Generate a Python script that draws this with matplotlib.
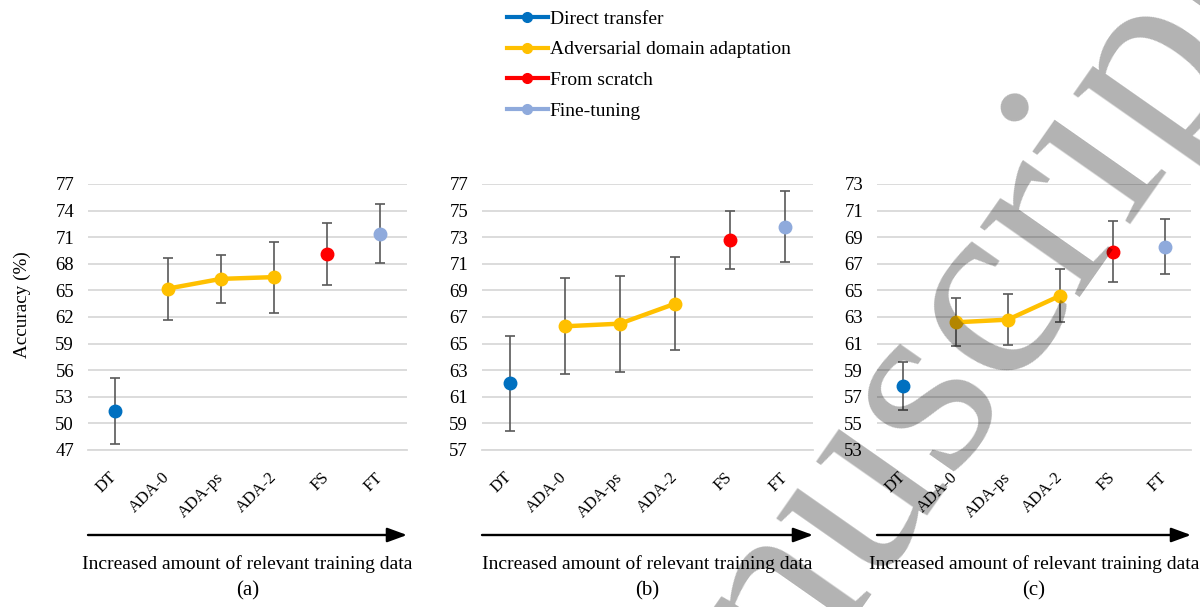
import matplotlib
matplotlib.use('Agg')
import matplotlib.pyplot as plt
import numpy as np
from matplotlib.lines import Line2D
from matplotlib.transforms import ScaledTranslation

plt.rcParams['font.family'] = ['Liberation Serif', 'DejaVu Serif']

# ---------------- data ----------------
categories = ['DT', 'ADA-0', 'ADA-ps', 'ADA-2', 'FS', 'FT']

acc_a = [51.4, 65.2, 66.3, 66.5, 69.1, 71.4]
err_a = [3.7, 3.5, 2.7, 4.0, 3.5, 3.3]

acc_b = [62.0, 66.3, 66.5, 68.0, 72.8, 73.8]
err_b = [3.6, 3.6, 3.6, 3.5, 2.2, 2.7]

acc_c = [57.8, 62.6, 62.8, 64.6, 67.9, 68.3]
err_c = [1.8, 1.8, 1.9, 2.0, 2.3, 2.1]

yticks_a = [47, 50, 53, 56, 59, 62, 65, 68, 71, 74, 77]
yticks_b = [57, 59, 61, 63, 65, 67, 69, 71, 73, 75, 77]
yticks_c = [53, 55, 57, 59, 61, 63, 65, 67, 69, 71, 73]

series_names = ['Direct transfer', 'Adversarial domain adaptation',
                'From scratch', 'Fine-tuning']
series_members = [[0], [1, 2, 3], [4], [5]]
series_colors = ['#0070C0', '#FFC000', '#FF0000', '#8FAADC']

panel_labels = ['(a)', '(b)', '(c)']
axis_title = 'Increased amount of relevant training data'

# ---------------- layout ----------------
W, H = 1200, 607
fig = plt.figure(figsize=(W / 100, H / 100), dpi=100)

ax_boxes = [(88, 319), (482, 331), (877, 314)]  # left px, width px
ax_top, ax_bot = 184, 450

panels = [(acc_a, err_a, yticks_a), (acc_b, err_b, yticks_b),
          (acc_c, err_c, yticks_c)]

grid_col = '#D9D9D9'
err_col = '#595959'

for (left, width), (acc, err, yt), plab in zip(ax_boxes, panels, panel_labels):
    ax = fig.add_axes([left / W, (H - ax_bot) / H, width / W,
                       (ax_bot - ax_top) / H])
    x = np.arange(len(categories))
    acc = np.asarray(acc)
    err = np.asarray(err)
    ax.set_xlim(-0.5, len(categories) - 0.5)
    ax.set_ylim(yt[0], yt[-1])
    ax.set_yticks(yt)
    ax.grid(axis='y', color=grid_col, lw=1.3)
    ax.set_axisbelow(True)
    for s in ['top', 'right', 'left']:
        ax.spines[s].set_visible(False)
    ax.spines['bottom'].set_color(grid_col)
    ax.spines['bottom'].set_linewidth(1.3)

    ax.errorbar(x, acc, yerr=err, fmt='none', ecolor=err_col,
                elinewidth=1.2, capsize=3.6, capthick=1.2, zorder=3)
    for members, col in zip(series_members, series_colors):
        ax.plot(x[members], acc[members], color=col, lw=3.2, marker='o',
                ms=9, zorder=4, solid_capstyle='round')

    ax.set_xticks(x)
    ax.set_xticklabels(categories, rotation=45, ha='right', va='center',
                       rotation_mode='anchor', fontsize=12)
    for lab in ax.get_xticklabels():
        lab.set_transform(lab.get_transform() +
                          ScaledTranslation(0.07, 0, fig.dpi_scale_trans))
    ax.tick_params(axis='x', length=0, pad=18)
    ax.tick_params(axis='y', length=0, pad=10, labelsize=13.5)

    hpx = ax_bot - ax_top
    ax.annotate('', xy=(1, -(535 - ax_bot) / hpx), xytext=(0, -(535 - ax_bot) / hpx),
                xycoords='axes fraction', textcoords='axes fraction',
                annotation_clip=False,
                arrowprops=dict(arrowstyle='-|>,head_length=0.6,head_width=0.22',
                                lw=1.7, color='black', mutation_scale=20,
                                shrinkA=0, shrinkB=0))
    ax.text(0.5, -(564 - ax_bot) / hpx, axis_title, transform=ax.transAxes,
            ha='center', va='center', fontsize=14)
    ax.text(0.5, -(591 - ax_bot) / hpx, plab, transform=ax.transAxes,
            ha='center', va='center', fontsize=15)

fig.text(22 / W, 1 - 305 / H, 'Accuracy (%)', rotation=90, ha='center',
         va='center', fontsize=13.8)

handles = [Line2D([], [], color=c, lw=3, marker='o', ms=7)
           for c in series_colors]
fig.legend(handles, series_names, loc='upper left',
           bbox_to_anchor=(507 / W, 1 - 10 / H), frameon=False, fontsize=14,
           handlelength=2.1, handletextpad=0.1, labelspacing=0.68,
           borderpad=0, borderaxespad=0)

# watermark
fig.text(593 / W, -375 / H, 'Manuscript', rotation=55, rotation_mode='anchor',
         ha='left', va='baseline', fontsize=191, color='black', alpha=0.3,
         zorder=10)

fig.savefig('out.png', dpi=100)
